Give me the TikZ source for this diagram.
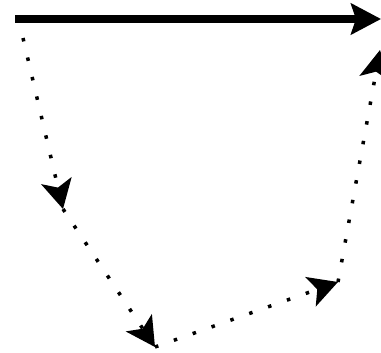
\documentclass[tikz,border=0pt]{standalone}
\usepackage{tikz}
\usetikzlibrary{arrows.meta}
\tikzset{
  bigarr/.style={-{Stealth[length=0.6cm, width=0.62cm, inset=0.1cm]}, line width=0.15cm},
  dotarr/.style={-{Stealth[length=0.58cm, width=0.62cm, inset=0.14cm]}, line width=0.07cm, dash pattern=on 0.07cm off 0.33cm},
}

\begin{document}
\begin{tikzpicture}[x=0.02cm, y=-0.02cm]
\useasboundingbox (0,0) rectangle (381,352);
\coordinate (top0) at (15,19);
\coordinate (top1) at (381,19);
\coordinate (p0) at (23,38);
\coordinate (p1) at (63,209);
\coordinate (p2) at (155,347);
\coordinate (p3) at (338,282);
\coordinate (p4) at (380,50);
\draw[bigarr] (top0) -- (top1);
\draw[dotarr] (p0) -- (p1);
\draw[dotarr] (p1) -- (p2);
\draw[dotarr] (p2) -- (p3);
\draw[dotarr] (p3) -- (p4);
\end{tikzpicture}
\end{document}
